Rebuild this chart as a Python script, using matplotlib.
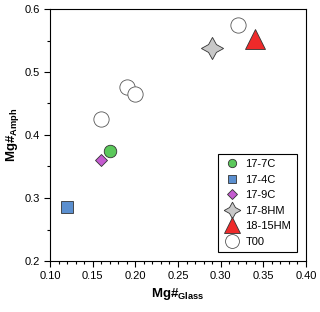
import matplotlib
matplotlib.use("Agg")
import matplotlib.pyplot as plt
from matplotlib.lines import Line2D
from matplotlib.ticker import MultipleLocator

plt.rcParams['font.family'] = ['Liberation Sans', 'DejaVu Sans']
plt.rcParams['mathtext.fontset'] = 'custom'
plt.rcParams['mathtext.rm'] = 'Liberation Sans'
plt.rcParams['mathtext.bf'] = 'Liberation Sans:bold'

# samples: label, x (Mg# glass), y (Mg# amph)
labels = ["17-7C", "17-4C", "17-9C", "17-8HM", "18-15HM"]
glass = [0.17, 0.12, 0.16, 0.29, 0.34]
amph = [0.375, 0.285, 0.36, 0.538, 0.552]
colors = ["#5bc85b", "#5b8fcf", "#c45bd0", "#c8c8c8", "#ee2a2a"]
markers = ["o", "s", "D", (4, 1, 0), "^"]
sizes = [9, 9, 6, 16, 15]
leg_sizes = [6, 6, 5, 12, 12]

# literature data (T00)
t00_glass = [0.16, 0.19, 0.20, 0.32]
t00_amph = [0.425, 0.476, 0.465, 0.575]

fig = plt.figure(figsize=(3.2, 3.12), dpi=100)
ax = fig.add_axes([50/320, 51/312, 256/320, 252/312])

handles = []
for lab, x, y, c, m, s, ls in zip(labels, glass, amph, colors, markers, sizes, leg_sizes):
    ax.plot(x, y, linestyle="none", marker=m, ms=s, mfc=c, mec="#333333", mew=0.6)
    handles.append(Line2D([], [], linestyle="none", marker=m, ms=ls, mfc=c,
                          mec="#333333", mew=0.6, label=lab))
ax.plot(t00_glass, t00_amph, linestyle="none", marker="o", ms=11, mfc="white",
        mec="#555555", mew=0.6)
handles.append(Line2D([], [], linestyle="none", marker="o", ms=10, mfc="white",
                      mec="#555555", mew=0.6, label="T00"))

ax.set_xlim(0.10, 0.40)
ax.set_ylim(0.2, 0.6)
ax.xaxis.set_major_locator(MultipleLocator(0.05))
ax.xaxis.set_minor_locator(MultipleLocator(0.01))
ax.yaxis.set_major_locator(MultipleLocator(0.1))
ax.yaxis.set_minor_locator(MultipleLocator(0.05))
ax.xaxis.set_major_formatter(plt.FormatStrFormatter("%.2f"))
ax.yaxis.set_major_formatter(plt.FormatStrFormatter("%.1f"))
ax.tick_params(which="both", direction="out", labelsize=8, width=0.8)
ax.tick_params(which="major", length=4)
ax.tick_params(which="minor", length=2)
for sp in ax.spines.values():
    sp.set_linewidth(0.8)

ax.set_xlabel(r"$\mathbf{Mg\#}_{\mathbf{Glass}}$", fontsize=9.5, labelpad=3)
ax.set_ylabel(r"$\mathbf{Mg\#}_{\mathbf{Amph}}$", fontsize=9.5, labelpad=2)

leg = ax.legend(handles=handles, loc="lower right", fontsize=8, frameon=True,
                fancybox=False, edgecolor="black", framealpha=1,
                handletextpad=0.4, handlelength=1.6, labelspacing=0.5,
                borderpad=0.5, bbox_to_anchor=(0.985, 0.012))
leg.get_frame().set_linewidth(0.8)

fig.savefig("out.png", dpi=100)
